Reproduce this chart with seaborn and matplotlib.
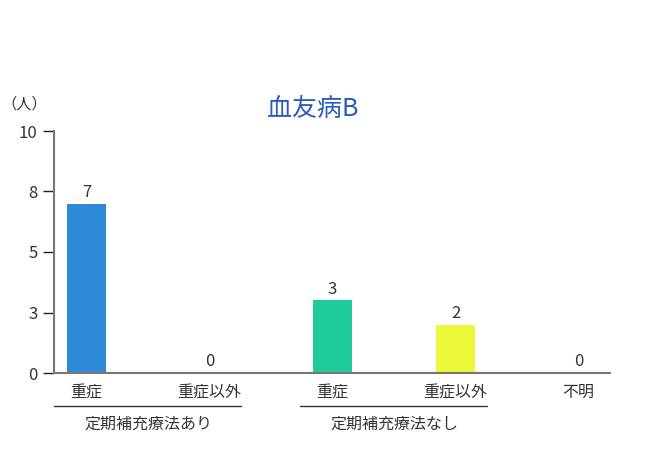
import matplotlib
matplotlib.use("Agg")
import matplotlib.pyplot as plt
import seaborn as sns
import pandas as pd

# data
categories = ["重症", "重症以外", "重症", "重症以外", "不明"]
counts = [7, 0, 3, 2, 0]
bar_colors = ["#2E8AD8", "#2E8AD8", "#1ECB9B", "#ECF93B", "#999999"]
groups = ["定期補充療法あり", "定期補充療法なし"]
group_members = [(0, 1), (2, 3)]
ytick_values = [0, 2.5, 5, 7.5, 10]
ytick_labels = ["0", "3", "5", "8", "10"]

sns.set_theme(style="white")
plt.rcParams['font.family'] = ['Noto Sans CJK JP', 'DejaVu Sans']

df = pd.DataFrame({"pos": list(range(len(counts))), "count": counts})

fig = plt.figure(figsize=(6.63, 4.61), dpi=100)
ax = fig.add_axes([54 / 663, 88 / 461, 556 / 663, 242 / 461])

sns.barplot(data=df, x="pos", y="count", hue="pos", palette=bar_colors,
            legend=False, width=0.317, saturation=1, ax=ax, linewidth=0)

ax.set_xlim(-0.264, 4.256)
ax.set_ylim(0, 10)
ax.set_yticks(ytick_values)
ax.set_yticklabels(ytick_labels, fontsize=12, color="#333333")
ax.tick_params(axis="y", length=8, width=1, color="#222222", pad=4, left=True)
ax.set_xticks(range(len(categories)))
ax.set_xticklabels(categories, fontsize=11.5, color="#333333")
ax.tick_params(axis="x", length=0, pad=8)
ax.set_xlabel("")
ax.set_ylabel("")

for side in ["top", "right"]:
    ax.spines[side].set_visible(False)
for side in ["left", "bottom"]:
    ax.spines[side].set_color("#777777")
    ax.spines[side].set_linewidth(1.5)

# value labels
for i, v in enumerate(counts):
    ax.annotate(str(v), xy=(i, v), xytext=(0, 8), textcoords="offset points",
                ha="center", va="center", fontsize=12, color="#333333")

# group brackets under the categories
for (a, b), name in zip(group_members, groups):
    x0, x1 = a - 0.264, b + 0.26
    line = plt.Line2D([x0, x1], [-33 / 242, -33 / 242], transform=ax.get_xaxis_transform(),
                      color="#333333", linewidth=1, clip_on=False)
    ax.add_line(line)
    ax.text((a + b) / 2, -51 / 242, name, transform=ax.get_xaxis_transform(),
            ha="center", va="center", fontsize=11.5, color="#333333")

fig.text(313 / 663, 1 - 109 / 461, "血友病B", ha="center", va="center",
         fontsize=18, color="#2B5BB8")
fig.text(24 / 663, 1 - 104 / 461, "（人）", ha="center", va="center",
         fontsize=11, color="#333333")

fig.savefig("out.png", dpi=100, facecolor="white")
